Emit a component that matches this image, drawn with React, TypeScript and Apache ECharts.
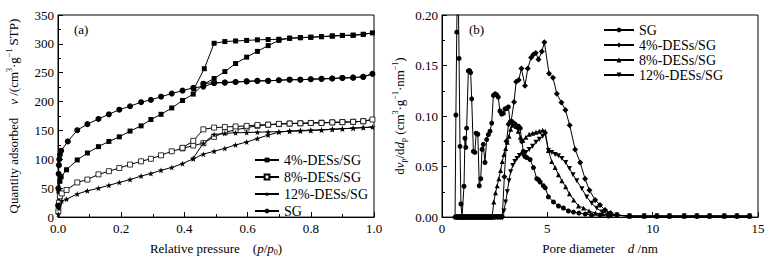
import React, { useEffect, useRef } from "react";
import * as echarts from "echarts";

// ---------- (a) N2 adsorption–desorption isotherms ----------
const A_NAMES = ["4%-DESs/SG", "8%-DESs/SG", "12%-DESs/SG", "SG"];

const a4P = [0.001, 0.003, 0.006, 0.01, 0.027, 0.061, 0.093, 0.128, 0.161, 0.194, 0.228, 0.263, 0.294, 0.326, 0.36, 0.394, 0.428, 0.46, 0.494, 0.528, 0.562, 0.597, 0.631, 0.665, 0.699, 0.733, 0.767, 0.8, 0.834, 0.868, 0.9, 0.934, 0.966, 0.995,
  0.966, 0.934, 0.9, 0.868, 0.834, 0.8, 0.767, 0.733, 0.699, 0.665, 0.631, 0.597, 0.562, 0.528, 0.494, 0.463, 0.43];
const a4V = [20, 45, 62, 70, 82, 99, 111, 122, 131, 139, 149, 158, 169, 178, 189, 202, 213, 230, 240, 252, 266, 277, 287, 297, 306, 310, 311, 311.5, 312.5, 313.6, 314.7, 315, 316.5, 319,
  316.5, 315, 314.5, 313.5, 312.5, 311.5, 310.5, 309.5, 308, 307.5, 307, 306, 305, 304, 301, 257, 222];

const a8P = [0.001, 0.003, 0.006, 0.012, 0.027, 0.061, 0.093, 0.128, 0.161, 0.194, 0.228, 0.263, 0.294, 0.326, 0.36, 0.394, 0.428, 0.46, 0.494, 0.528, 0.562, 0.597, 0.631, 0.665, 0.699, 0.733, 0.767, 0.8, 0.834, 0.868, 0.9, 0.934, 0.966, 0.995,
  0.966, 0.934, 0.9, 0.868, 0.834, 0.8, 0.767, 0.733, 0.699, 0.665, 0.631, 0.597, 0.562, 0.528, 0.494, 0.46, 0.428, 0.394];
const a8V = [10, 25, 36, 41, 47, 60, 65, 74, 79.5, 85, 91, 96.6, 101, 107, 114, 119, 124, 128, 139, 147, 151, 155, 158, 160, 161, 162, 162.5, 163, 163.5, 164, 164.5, 165, 166, 169,
  166, 165, 164.5, 164, 163, 163, 162.5, 162, 161.5, 160, 159.6, 158, 157, 156, 155, 152, 132, 120];

const a12P = [0.001, 0.003, 0.006, 0.012, 0.027, 0.061, 0.093, 0.128, 0.161, 0.194, 0.228, 0.263, 0.294, 0.326, 0.36, 0.394, 0.428, 0.46, 0.494, 0.528, 0.562, 0.597, 0.631, 0.665, 0.699, 0.733, 0.767, 0.8, 0.834, 0.868, 0.9, 0.934, 0.966, 0.995,
  0.966, 0.934, 0.9, 0.868, 0.834, 0.8, 0.767, 0.733, 0.699, 0.665, 0.631, 0.597, 0.562, 0.528, 0.494, 0.46, 0.428];
const a12V = [5, 15, 22, 28, 31, 40, 45.5, 50, 55, 60, 65, 71, 75.5, 81, 86, 92.6, 101, 109, 114, 119, 125, 130, 136, 142, 147, 149, 150, 150.5, 151, 152, 153, 154, 155, 156,
  155, 154, 153, 152, 151, 150, 149, 148.5, 148, 147.5, 147, 146.5, 146, 145, 143, 128, 102];

const aSGP = [0.0005, 0.001, 0.002, 0.003, 0.004, 0.006, 0.01, 0.031, 0.061, 0.093, 0.128, 0.161, 0.194, 0.228, 0.263, 0.294, 0.326, 0.36, 0.394, 0.428, 0.46, 0.494, 0.528, 0.562, 0.597, 0.631, 0.665, 0.699, 0.733, 0.767, 0.8, 0.834, 0.868, 0.9, 0.934, 0.966, 0.995,
  0.966, 0.934, 0.9, 0.868, 0.834, 0.8, 0.767, 0.733, 0.699, 0.665, 0.631, 0.597, 0.562, 0.528, 0.494, 0.46];
const aSGV = [20, 50, 75, 90, 100, 108, 115, 131, 150.5, 161, 170, 178, 186, 192, 199, 203, 208.5, 214, 219, 224, 226, 232, 233, 234, 235, 236, 236, 237, 238, 238, 238.7, 239.5, 240, 241, 241.5, 243, 248,
  243, 241.5, 241, 240, 239.5, 238.7, 238, 238, 237, 236, 236, 235, 234, 233, 233, 231];

// ---------- (b) pore size distributions ----------
const B_NAMES = ["SG", "4%-DESs/SG", "8%-DESs/SG", "12%-DESs/SG"];

const zeroD = [0.7, 0.78, 0.86, 0.94, 1.02, 1.1, 1.18, 1.26, 1.34, 1.42, 1.5, 1.58, 1.66, 1.74, 1.82, 1.9, 1.98, 2.06, 2.14, 2.22, 2.3, 2.38];
const zeroV = [0, 0, 0, 0, 0, 0, 0, 0, 0, 0, 0, 0, 0, 0, 0, 0, 0, 0, 0, 0, 0, 0];
const tailD = [8.3, 8.9, 9.6, 10.2, 10.8, 11.5, 12.1, 12.7, 13.4, 14.0, 14.6];
const tailV = [0.002, 0.001, 0.001, 0.001, 0.001, 0.001, 0.001, 0.001, 0.001, 0.001, 0.001];

const bSGD = [0.62, 0.66, 0.7, 0.75, 0.81, 0.855, 0.9, 0.95, 1.045, 1.09, 1.13, 1.17, 1.25, 1.31, 1.36, 1.41, 1.49, 1.56, 1.62, 1.7, 1.77, 1.84, 1.9, 1.96, 2.04, 2.12, 2.2, 2.28, 2.36, 2.44, 2.52, 2.6, 2.67, 2.75, 2.83, 2.91, 2.99, 3.07, 3.15, 3.23, 3.31, 3.39, 3.47, 3.55, 3.63, 3.71, 3.79, 3.86, 3.94, 4.02, 4.18, 4.34, 4.5, 4.58, 4.66, 4.81, 4.9, 5.05, 5.29, 5.53, 5.76, 6.0, 6.24, 6.5, 6.8, 7.1, 7.5, 7.9];
const bSGV = [0, 0.101, 0.183, 0.26, 0.157, 0.07, 0.013, 0, 0.0305, 0.078, 0.069, 0.088, 0.1447, 0.145, 0.143, 0.117, 0.065, 0.064, 0.083, 0.082, 0.031, 0.038, 0.067, 0.072, 0.054, 0.0767, 0.0816, 0.085, 0.093, 0.1204, 0.122, 0.121, 0.1188, 0.105, 0.102, 0.1026, 0.107, 0.1075, 0.109, 0.094, 0.0946, 0.093, 0.092, 0.089, 0.09, 0.088, 0.075, 0.065, 0.06, 0.059, 0.057, 0.049, 0.038, 0.037, 0.0347, 0.031, 0.029, 0.02, 0.015, 0.011, 0.009, 0.006, 0.005, 0.004, 0.003, 0.002, 0.002, 0.001];

const b4D = [2.46, 2.54, 2.62, 2.7, 2.78, 2.86, 2.96, 3.06, 3.16, 3.28, 3.42, 3.52, 3.64, 3.77, 3.94, 4.07, 4.23, 4.34, 4.45, 4.58, 4.74, 4.86, 5.08, 5.27, 5.45, 5.67, 5.86, 6.06, 6.32, 6.56, 6.79, 7.0, 7.27, 7.5, 7.74, 8.0];
const b4V = [0, 0, 0, 0, 0, 0, 0.04, 0.075, 0.092, 0.0945, 0.114, 0.134, 0.1356, 0.147, 0.13, 0.147, 0.158, 0.161, 0.1625, 0.156, 0.1638, 0.173, 0.142, 0.138, 0.122, 0.1135, 0.106, 0.091, 0.067, 0.054, 0.038, 0.0266, 0.017, 0.012, 0.007, 0.004];

const b8D = [2.46, 2.54, 2.62, 2.7, 2.78, 2.86, 2.94, 3.02, 3.1, 3.18, 3.26, 3.34, 3.42, 3.52, 3.62, 3.72, 3.84, 3.98, 4.14, 4.3, 4.46, 4.62, 4.78, 4.9, 5.05, 5.21, 5.37, 5.53, 5.69, 5.87, 6.05, 6.25, 6.48, 6.72, 6.98, 7.28, 7.62, 8.0];
const b8V = [0.015, 0.024, 0.031, 0.038, 0.046, 0.055, 0.062, 0.068, 0.074, 0.08, 0.087, 0.091, 0.093, 0.09, 0.085, 0.079, 0.076, 0.079, 0.082, 0.083, 0.084, 0.085, 0.086, 0.085, 0.066, 0.055, 0.049, 0.042, 0.036, 0.03, 0.023, 0.017, 0.011, 0.009, 0.006, 0.004, 0.003, 0.002];

const b12D = [2.46, 2.54, 2.62, 2.7, 2.78, 2.86, 2.94, 3.02, 3.1, 3.18, 3.26, 3.36, 3.46, 3.56, 3.68, 3.82, 3.98, 4.14, 4.3, 4.46, 4.62, 4.78, 4.9, 5.05, 5.21, 5.37, 5.53, 5.69, 5.87, 6.05, 6.22, 6.4, 6.64, 6.87, 7.11, 7.35, 7.6, 7.9];
const b12V = [0, 0, 0, 0, 0, 0, 0.006, 0.015, 0.025, 0.036, 0.045, 0.051, 0.055, 0.058, 0.061, 0.062, 0.064, 0.067, 0.07, 0.074, 0.077, 0.08, 0.082, 0.066, 0.064, 0.062, 0.0606, 0.058, 0.054, 0.048, 0.042, 0.036, 0.028, 0.02, 0.0136, 0.0087, 0.005, 0.003];

const A_X_TICKS = { min: 0, max: 1, interval: 0.2 };
const A_Y_TICKS = { min: 0, max: 350, interval: 50 };
const B_X_TICKS = { min: 0, max: 15, interval: 5 };
const B_Y_TICKS = { min: 0, max: 0.2, interval: 0.05 };

const FONT = "'Liberation Serif', 'Times New Roman', serif";
const STAR = "path://M0,-10L2.35,-3.24L9.51,-3.09L3.8,1.24L5.88,8.09L0,4L-5.88,8.09L-3.8,1.24L-9.51,-3.09L-2.35,-3.24Z";

const pairs = (xs: number[], ys: number[]) => xs.map((x, i) => [x, ys[i]]);

const richStyles = {
  i: { fontStyle: "italic", fontFamily: FONT, fontSize: 13, color: "#000" },
  sup: { fontSize: 8, verticalAlign: "top", fontFamily: FONT, color: "#000" },
  sub: { fontSize: 8, verticalAlign: "bottom", fontFamily: FONT, color: "#000" },
};

function axisBase(gridIndex: number, ticks: any, decimals: number, minor: boolean, labelMargin: number, labelLH: number) {
  return {
    type: "value",
    gridIndex,
    ...ticks,
    axisLine: { show: true, onZero: false, lineStyle: { color: "#000", width: 1 } },
    axisTick: { show: true, inside: true, length: 5, lineStyle: { color: "#000" } },
    minorTick: { show: minor, splitNumber: 2, length: 3, lineStyle: { color: "#000" } },
    splitLine: { show: false },
    minorSplitLine: { show: false },
    axisLabel: {
      fontFamily: FONT,
      fontSize: 13,
      lineHeight: labelLH,
      color: "#000",
      margin: labelMargin,
      formatter: (v: number) => (decimals === 0 ? String(v) : v.toFixed(decimals)),
    },
    nameLocation: "middle",
    nameTextStyle: { fontFamily: FONT, fontSize: 13, color: "#000", lineHeight: 16, rich: richStyles },
  };
}

function lineSeries(name: string, data: number[][], gi: number, symbol: string, size: number, extra: any = {}) {
  return {
    name,
    type: "line",
    xAxisIndex: gi,
    yAxisIndex: gi,
    data,
    symbol,
    symbolSize: size,
    showSymbol: true,
    showAllSymbol: true,
    clip: true,
    lineStyle: { color: "#000", width: 1 },
    itemStyle: { color: "#000" },
    emphasis: { disabled: true },
    ...extra,
  };
}

export default function App() {
  const ref = useRef<HTMLDivElement>(null);
  useEffect(() => {
    if (!ref.current) return;
    const chart = echarts.init(ref.current, null, { renderer: "svg" });
    const option: any = {
      animation: false,
      backgroundColor: "#fff",
      grid: [
        { left: 58, top: 15, width: 316, height: 205, show: true, borderColor: "#000", borderWidth: 1, backgroundColor: "transparent" },
        { left: 442, top: 15, width: 316, height: 206, show: true, borderColor: "#000", borderWidth: 1, backgroundColor: "transparent" },
      ],
      xAxis: [
        { ...axisBase(0, A_X_TICKS, 1, true, 6, 11), name: "Relative pressure    ({i|p}/{i|p}{sub|0})", nameGap: 19 },
        { ...axisBase(1, B_X_TICKS, 0, false, 6, 11), name: "Pore diameter    {i|d} /nm", nameGap: 19 },
      ],
      yAxis: [
        { ...axisBase(0, A_Y_TICKS, 0, true, 4, 10), name: "Quantity adsorbed    {i|v} /(cm{sup|3}·g{sup|−1} STP)", nameGap: 37 },
        { ...axisBase(1, B_Y_TICKS, 2, true, 4, 10), name: "d{i|v}{sub|p}/d{i|d}{sub|p} (cm{sup|3}·g{sup|−1}·nm{sup|−1})", nameGap: 35 },
      ],
      legend: [
        {
          data: A_NAMES,
          left: 249,
          top: 148,
          orient: "vertical",
          itemWidth: 24,
          itemHeight: 6,
          itemGap: 3,
          selectedMode: false,
          textStyle: { fontFamily: FONT, fontSize: 14, color: "#000" },
        },
        {
          data: B_NAMES.map((n) => "b:" + n),
          left: 598,
          top: 18,
          orient: "vertical",
          itemWidth: 30,
          itemHeight: 6,
          itemGap: 1,
          selectedMode: false,
          formatter: (n: string) => n.replace("b:", ""),
          textStyle: { fontFamily: FONT, fontSize: 14, color: "#000" },
        },
      ],
      graphic: [
        { type: "text", left: 74, top: 23, style: { text: "(a)", font: `13px ${FONT}`, fill: "#000" } },
        { type: "text", left: 469, top: 23, style: { text: "(b)", font: `13px ${FONT}`, fill: "#000" } },
      ],
      series: [
        lineSeries(A_NAMES[0], pairs(a4P, a4V), 0, "rect", 5),
        lineSeries(A_NAMES[1], pairs(a8P, a8V), 0, "rect", 5, {
          itemStyle: { color: "#fff", borderColor: "#000", borderWidth: 0.8 },
        }),
        lineSeries(A_NAMES[2], pairs(a12P, a12V), 0, STAR, 6),
        lineSeries(A_NAMES[3], pairs(aSGP, aSGV), 0, "circle", 6),
        lineSeries("b:" + B_NAMES[0], pairs([...bSGD, ...tailD], [...bSGV, ...tailV]), 1, "circle", 5),
        lineSeries("b:" + B_NAMES[1], pairs([...zeroD, ...b4D, ...tailD], [...zeroV, ...b4V, ...tailV]), 1, "diamond", 6),
        lineSeries("b:" + B_NAMES[2], pairs([...zeroD, ...b8D, ...tailD], [...zeroV, ...b8V, ...tailV]), 1, "triangle", 5),
        lineSeries("b:" + B_NAMES[3], pairs([...zeroD, ...b12D, ...tailD], [...zeroV, ...b12V, ...tailV]), 1, "triangle", 5, {
          symbolRotate: 180,
        }),
      ],
    };
    chart.setOption(option);
    return () => chart.dispose();
  }, []);
  return <div ref={ref} style={{ position: "fixed", left: 0, top: 0, width: 772, height: 261 }} />;
}
